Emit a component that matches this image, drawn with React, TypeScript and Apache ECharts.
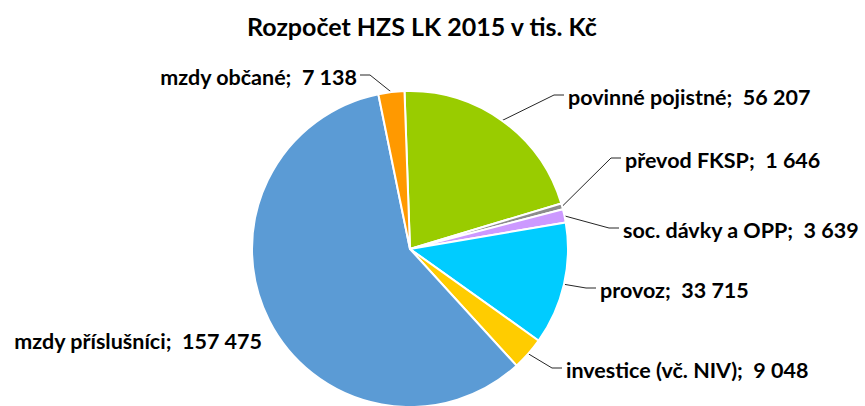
import React, { useEffect, useRef } from "react";
import * as echarts from "echarts";

const titleText = "Rozpočet HZS LK 2015 v tis. Kč";
const categories = [
  "povinné pojistné",
  "převod FKSP",
  "soc. dávky a OPP",
  "provoz",
  "investice (vč. NIV)",
  "mzdy příslušníci",
  "mzdy občané",
];
const values = [56207, 1646, 3639, 33715, 9048, 157475, 7138];
const colors = ["#99CC00", "#8C8C8C", "#CC99FF", "#00CCFF", "#FFCC00", "#5B9BD5", "#FF9900"];

// label anchor positions (x, y, align) – layout only
const labelPos: [number, number, "left" | "right"][] = [
  [568, 97, "left"],
  [625, 160, "left"],
  [623, 230, "left"],
  [600, 290, "left"],
  [566, 370, "left"],
  [262, 341, "right"],
  [357, 77, "right"],
];

const fmt = (v: number) => String(v).replace(/\B(?=(\d{3})+(?!\d))/g, " ");

export default function App() {
  const ref = useRef<HTMLDivElement>(null);
  useEffect(() => {
    document.body.style.margin = "0";
    const chart = echarts.init(ref.current!, undefined, { renderer: "svg" });
    const font = "Lato, 'Open Sans', sans-serif";
    chart.setOption({
      animation: false,
      title: {
        text: titleText,
        left: 242,
        top: 8,
        textStyle: { fontFamily: font, fontWeight: "bold", fontSize: 25, color: "#000" },
      },
      series: [
        {
          type: "pie",
          center: [410, 249],
          radius: 158,
          startAngle: 92,
          clockwise: true,
          itemStyle: { borderColor: "#fff", borderWidth: 2 },
          label: {
            show: true,
            position: "outside",
            fontFamily: font,
            fontWeight: "bold",
            fontSize: 21.5,
            color: "#000",
            overflow: "none",
            edgeDistance: 0,
            formatter: (p: any) => `${p.name};  ${fmt(p.value)}`,
          },
          labelLine: { show: true, lineStyle: { color: "#262626", width: 1 }, length: 10, length2: 10 },
          labelLayout: (params: any) => {
            const i = params.dataIndex;
            const [x, y, align] = labelPos[i];
            const start = params.labelLinePoints ? params.labelLinePoints[0] : [x, y];
            const ly = y - 2;
            const end = align === "left" ? [x - 4, ly] : [x + 3, ly];
            const elbow = align === "left" ? [end[0] - 10, ly] : [end[0] + 10, ly];
            return {
              x,
              y,
              align,
              verticalAlign: "middle",
              labelLinePoints: [start, elbow, end],
            };
          },
          data: categories.map((name, i) => ({
            name,
            value: values[i],
            itemStyle: { color: colors[i] },
            labelLine: i === 5 ? { show: false } : undefined,
          })),
        },
      ],
    });
    return () => chart.dispose();
  }, []);
  return <div ref={ref} style={{ width: 865, height: 406 }} />;
}
